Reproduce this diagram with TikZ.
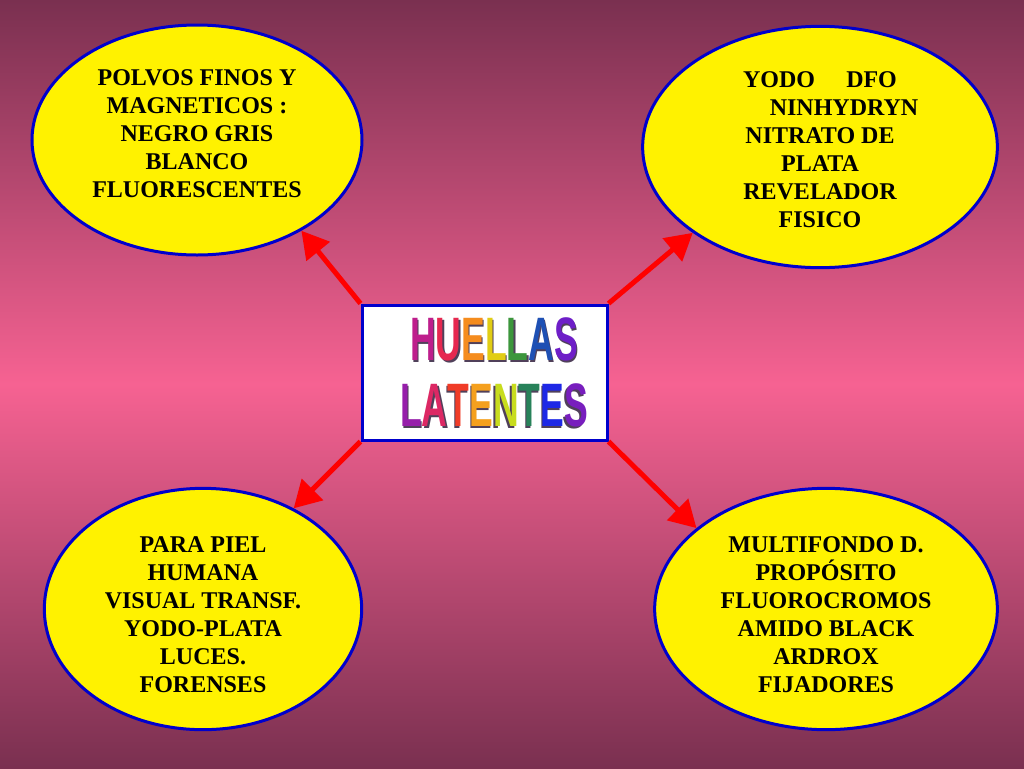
\documentclass[tikz,border=0pt]{standalone}
\usepackage{fontspec}
\setmainfont{Liberation Serif}
\newfontfamily\titlefont{Liberation Sans}
\usetikzlibrary{shapes.geometric,arrows.meta}

\definecolor{bgdark}{RGB}{122,48,80}
\definecolor{bgpink}{RGB}{246,98,146}
\definecolor{rimblue}{RGB}{0,0,204}
\definecolor{shadowgray}{RGB}{80,64,90}

% one coloured letter of the title
\newcommand{\ltr}[2]{{\color[RGB]{#1}#2}}
% word with its grey shadow behind
\newcommand{\shadowed}[2]{\scalebox{0.58}[1]{\rlap{\kern1.8pt\raisebox{-1.5pt}{\color{shadowgray}#1}}#2}}

\tikzset{every picture/.style={line width=0.75pt}}
\tikzset{
  blob/.style={ellipse,draw=rimblue,line width=2.25pt,fill=yellow,inner sep=0pt},
  blobtext/.style={align=center,inner sep=0pt,font=\bfseries\fontsize{18}{21}\selectfont},
  titletext/.style={align=center,inner sep=0pt,font=\titlefont\bfseries\fontsize{46}{49.5}\selectfont},
  pointer/.style={draw=red,line width=3.75pt,-{Triangle[length=20pt,width=22pt]}},
}

\begin{document}
\begin{tikzpicture}[x=0.75pt,y=0.75pt,yscale=-1,xscale=1]
%Background
\shade [top color=bgdark,bottom color=bgdark,middle color=bgpink] (0,0) rectangle (1024,768);
\useasboundingbox (0,0) rectangle (1024,768);

%Shape: Ellipse
\node [blob,minimum width=247.5pt,minimum height=172.5pt] (polvos) at (197,140) {};
%Shape: Ellipse
\node [blob,minimum width=266pt,minimum height=181pt] (yodo) at (820,147) {};
%Shape: Ellipse
\node [blob,minimum width=238pt,minimum height=181pt] (piel) at (203,609) {};
%Shape: Ellipse
\node [blob,minimum width=257pt,minimum height=181pt] (multi) at (826,609) {};

%Shape: Rectangle
\node [draw=rimblue,line width=2.25pt,fill=white,minimum width=183.75pt,minimum height=101.25pt] (box) at (484.5,372.5) {};

%Straight Lines
\draw [pointer] (box.north west) -- (polvos.319);
\draw [pointer] (box.north east) -- (yodo.214);
\draw [pointer] (box.south west) -- (piel.48);
\draw [pointer] (box.south east) -- (multi.148);

% Text Node
\node [titletext] (titulo) at (494,373) {\shadowed{HUELLAS}{\ltr{190,30,140}{H}\ltr{230,40,80}{U}\ltr{245,140,30}{E}\ltr{225,205,20}{L}\ltr{60,150,60}{L}\ltr{30,80,180}{A}\ltr{110,30,200}{S}}\\
  \shadowed{LATENTES}{\ltr{150,30,170}{L}\ltr{220,40,100}{A}\ltr{240,60,40}{T}\ltr{245,160,30}{E}\ltr{200,220,30}{N}\ltr{40,130,90}{T}\ltr{30,40,230}{E}\ltr{120,30,190}{S}}};

% Text Node
\node [blobtext] (polvos text) at (197,134) {POLVOS FINOS Y\\MAGNETICOS :\\NEGRO GRIS\\BLANCO\\FLUORESCENTES};
% Text Node
\node [blobtext] (yodo text) at (820,150) {YODO\hspace{1.3em}DFO\\\hspace*{2em}NINHYDRYN\\NITRATO DE\\PLATA\\REVELADOR\\FISICO};
% Text Node
\node [blobtext] (piel text) at (203,615) {PARA PIEL\\HUMANA\\VISUAL TRANSF.\\YODO-PLATA\\LUCES.\\FORENSES};
% Text Node
\node [blobtext] (multi text) at (826,615) {MULTIFONDO D.\\PROPÓSITO\\FLUOROCROMOS\\AMIDO BLACK\\ARDROX\\FIJADORES};

\end{tikzpicture}
\end{document}
